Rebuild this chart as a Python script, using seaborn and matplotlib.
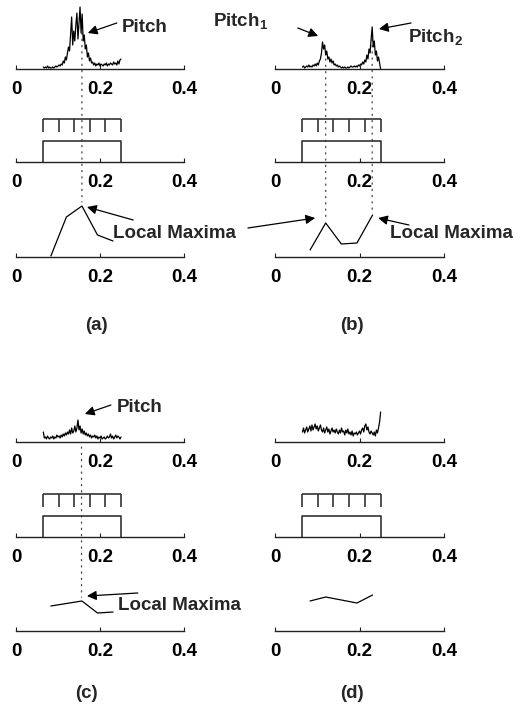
import numpy as np
import matplotlib
matplotlib.use("Agg")
import matplotlib.pyplot as plt
import seaborn as sns
from matplotlib.patches import ConnectionPatch

sns.set_theme(style="white")
plt.rcParams["font.family"] = ["Liberation Sans", "DejaVu Sans"]
plt.rcParams["font.weight"] = "bold"
plt.rcParams["mathtext.fontset"] = "custom"
plt.rcParams["mathtext.rm"] = "Liberation Sans:bold"
plt.rcParams["mathtext.it"] = "Liberation Sans:bold"
plt.rcParams["mathtext.bf"] = "Liberation Sans:bold"
plt.rcParams["mathtext.default"] = "rm"

W, H = 514, 707
FS = 13.5

# pitch signal, sampled every 0.0025 between 0.065 and 0.25
sig_x = np.linspace(0.065, 0.25, 75)
sig_a = [2, 1, 2, 1, 3, 1, 2, 1, 1, 2, 1, 2, 3, 2, 3, 4, 3,
         5, 4, 8, 6, 12, 9, 16, 22, 18, 35, 52, 24, 38, 28, 44, 56,
         30, 46, 62, 36, 55, 28, 34, 20, 24, 12, 16, 8, 11, 6,
         7, 4, 6, 3, 5, 4, 6, 3, 5, 4, 3, 5, 4, 6, 3, 5, 4, 6, 5, 4,
         7, 5, 6, 4, 8, 5, 9, 10]
sig_b = [2, 3, 1, 2, 3, 2, 4, 2, 3, 2, 4, 3, 5, 3,
         6, 4, 8, 10, 16, 27, 20, 24, 14, 18, 10, 12, 7, 10, 6, 8, 4, 5,
         3, 4, 2, 3, 2, 1, 2, 1, 2, 1, 1, 2, 1, 2, 3, 2, 2, 3, 2, 3, 2, 4,
         3, 5, 4, 7, 5, 9, 7, 14, 10, 20, 16, 30, 42, 22, 28, 14, 18, 8,
         12, 6, 0]
sig_c = [10, 4, 5, 3, 6, 4, 3, 5, 4, 6, 3, 5, 4, 7, 5, 6,
         4, 7, 5, 8, 6, 9, 7, 10, 8,
         12, 8, 14, 9, 11, 16, 10, 14, 22,
         12, 16, 9, 13, 8, 11, 7,
         9, 6, 8, 5, 7, 4, 6, 5, 7, 4, 6, 3, 5, 4, 6, 3, 4, 5, 3, 4,
         6, 4, 5, 8, 4, 6, 3, 5, 7, 4, 6, 5, 3, 5]
sig_d = [10, 14, 9, 12, 15, 10, 13, 16, 11, 17, 12, 15, 18, 13, 16,
         11, 14, 17, 12, 10, 14, 9, 12, 15, 10, 13, 8, 11, 14, 10,
         12, 9, 13, 10, 8, 12, 9, 14, 10, 11, 7, 12, 9, 13, 8,
         10, 7, 11, 6, 9, 8, 10, 7, 9, 11, 8, 12, 14, 10, 16,
         18, 12, 15, 10, 8, 11, 9, 7, 10, 6, 12, 9, 14, 20, 30]

# analysis windows and the local maxima curve (one value per window)
win_edges = [0.064, 0.1012, 0.1384, 0.1756, 0.2128, 0.25]
lm_x = [0.083, 0.12, 0.157, 0.194, 0.231]
lm_a = [1, 40, 51, 22, 16]
lm_b = [7, 34, 13, 14, 42]
lm_c = [25, 27.5, 30, 18, 19]
lm_d = [30, 34, 31, 28, 36]

# detected pitch and where its dotted guide starts in the signal plot
pitch_a = [0.157]
pitch_b = [0.12, 0.23]
pitch_c = [0.156]
pitch_d = []
guide_top_a = [36]
guide_top_b = [10, 36]
guide_top_c = [-5]
guide_top_d = []

ticks = [0, 0.2, 0.4]
tick_labels = ["0", "0.2", "0.4"]

fig = plt.figure(figsize=(W / 100, H / 100), dpi=100)


def make_ax(x0, x1, base, height):
    ax = fig.add_axes([x0 / W, (H - base) / H, (x1 - x0) / W, height / H])
    ax.set_xlim(0, 0.4)
    ax.set_ylim(0, height)
    for s in ["top", "left", "right"]:
        ax.spines[s].set_visible(False)
    ax.spines["bottom"].set_color("#222222")
    ax.spines["bottom"].set_linewidth(1.0)
    ax.set_yticks([])
    ax.set_xticks(ticks)
    ax.set_xticklabels(tick_labels, fontsize=FS, fontweight="bold")
    ax.tick_params(axis="x", bottom=True, direction="in", length=3, width=0.8,
                   pad=8.5, colors="#222222", labelcolor="black")
    ax.patch.set_visible(False)
    return ax


def panel(x0, x1, bases, sig, lm, pitches, tops, label, label_x, label_y):
    ax1 = make_ax(x0, x1, bases[0], 66)
    ax2 = make_ax(x0, x1, bases[1], 50)
    ax3 = make_ax(x0, x1, bases[2], 60)

    sns.lineplot(x=sig_x, y=sig, ax=ax1, color="black", lw=0.9,
                 estimator=None, sort=False)

    e0, e1 = win_edges[0], win_edges[-1]
    ax2.plot([e0, e0, e1, e1], [0, 21, 21, 0], color="#333333", lw=1.2)
    ax2.hlines(43, e0, e1, color="#333333", lw=1.2)
    ax2.vlines(win_edges, 30, 43, color="#333333", lw=1.2)

    sns.lineplot(x=lm_x, y=lm, ax=ax3, color="black", lw=0.9,
                 estimator=None, sort=False)

    for ax in (ax1, ax2, ax3):
        ax.set_xlim(0, 0.4)
        ax.set_xlabel("")
        ax.set_ylabel("")

    for p, ytop in zip(pitches, tops):
        ybot = np.interp(p, lm_x, lm) + 4
        con = ConnectionPatch(xyA=(p, ytop), coordsA=ax1.transData,
                              xyB=(p, ybot), coordsB=ax3.transData,
                              color="#444444", lw=0.9, linestyle=(0, (1, 4)),
                              zorder=-1)
        fig.add_artist(con)

    fig.text(label_x / W, 1 - label_y / H, label, ha="center", va="center",
             fontsize=FS, fontweight="bold")
    return ax1, ax2, ax3


def arrow(ax, head, tail):
    ax.annotate("", xy=head, xytext=tail, annotation_clip=False,
                arrowprops=dict(arrowstyle="-|>", color="black", lw=0.9,
                                mutation_scale=14, shrinkA=0, shrinkB=0))


def label(ax, x, y, s):
    ax.text(x, y, s, ha="left", va="center", fontsize=FS, fontweight="bold",
            clip_on=False)


L0, L1 = 16, 184
R0, R1 = 275, 444

a1, a2, a3 = panel(L0, L1, (69, 162, 257), sig_a, lm_a, pitch_a, guide_top_a,
                   "(a)", 96, 325)
b1, b2, b3 = panel(R0, R1, (69, 162, 257), sig_b, lm_b, pitch_b, guide_top_b,
                   "(b)", 352, 325)
c1, c2, c3 = panel(L0, L1, (442, 537, 631), sig_c, lm_c, pitch_c, guide_top_c,
                   "(c)", 86, 693)
d1, d2, d3 = panel(R0, R1, (442, 537, 631), sig_d, lm_d, pitch_d, guide_top_d,
                   "(d)", 352, 693)

# (a)
label(a1, 0.252, 42, "Pitch")
arrow(a1, (0.171, 36), (0.240, 46))
label(a3, 0.231, 24, "Local Maxima")
arrow(a3, (0.169, 50), (0.279, 37))

# (b)
label(b1, -0.147, 48, "Pitch$_1$")
arrow(b1, (0.102, 33), (0.054, 41))
label(b1, 0.315, 32, "Pitch$_2$")
arrow(b1, (0.246, 40), (0.322, 46))
arrow(b3, (0.095, 39), (-0.064, 29))
label(b3, 0.272, 24, "Local Maxima")
arrow(b3, (0.244, 39), (0.317, 32))

# (c)
label(c1, 0.240, 34, "Pitch")
arrow(c1, (0.164, 28), (0.226, 37))
label(c3, 0.243, 25, "Local Maxima")
arrow(c3, (0.169, 35), (0.290, 38))

fig.savefig("out.png", dpi=100)
